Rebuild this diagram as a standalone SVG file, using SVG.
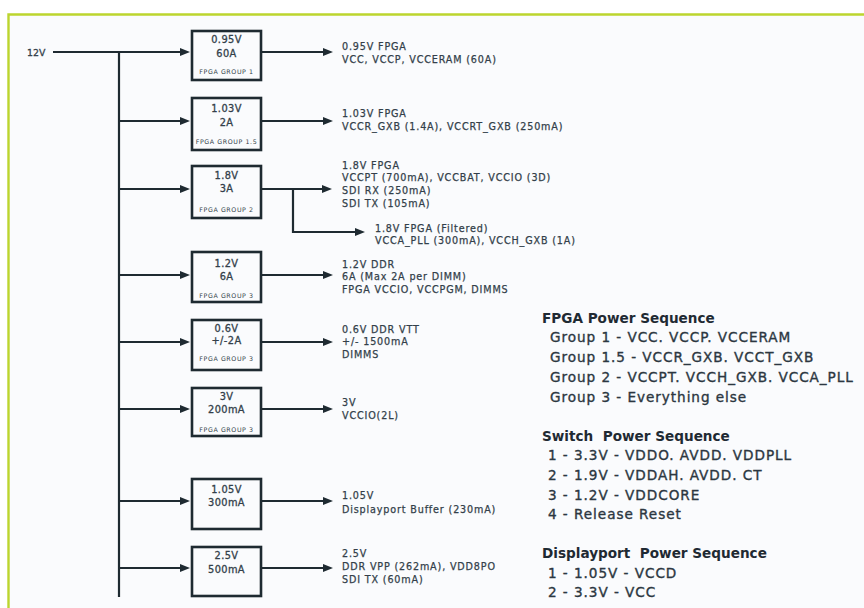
<svg xmlns="http://www.w3.org/2000/svg" width="864" height="608" viewBox="0 0 864 608">
<style>
text{font-family:"DejaVu Sans","Liberation Sans",sans-serif;fill:#333f4a}
.lbl{font-size:9.6px;letter-spacing:0.85px;stroke:#333f4a;stroke-width:0.25px}
.val{font-size:9.8px;letter-spacing:0.4px;text-anchor:middle;stroke:#333f4a;stroke-width:0.3px}
.grp{font-size:6.3px;letter-spacing:0.6px;text-anchor:middle}
.seq{font-size:13.6px;letter-spacing:0.95px;fill:#2c3741;stroke:#2c3741;stroke-width:0.35px}
.ttl{font-size:13.6px;font-weight:bold;letter-spacing:0px;fill:#1f2a33;white-space:pre}
.box{fill:none;stroke:#1e2a31;stroke-width:2.6}
.ln{fill:none;stroke:#1e2a31;stroke-width:2.2}
</style>
<defs>
<marker id="ah" markerUnits="userSpaceOnUse" markerWidth="10" markerHeight="8" refX="4" refY="4" orient="auto">
<path d="M0,0 L10,4 L0,8 z" fill="#1e2a31"/>
</marker>
</defs>
<rect x="0" y="0" width="864" height="608" fill="#ffffff"/>
<rect x="9" y="15" width="855" height="593" fill="#fafbfd"/>
<path d="M8.5,608 V14.5 H864" fill="none" stroke="#bcd52e" stroke-width="2.4"/>
<text x="27" y="56" style="font-size:9.4px;stroke:#333f4a;stroke-width:0.3px">12V</text>
<g id="connectors">
<line class="ln" x1="53" y1="52" x2="184" y2="52" marker-end="url(#ah)"/>
<line class="ln" x1="119" y1="51" x2="119" y2="597"/>
<line class="ln" x1="119" y1="121" x2="184" y2="121" marker-end="url(#ah)"/>
<line class="ln" x1="119" y1="189" x2="184" y2="189" marker-end="url(#ah)"/>
<line class="ln" x1="119" y1="275" x2="184" y2="275" marker-end="url(#ah)"/>
<line class="ln" x1="119" y1="342" x2="184" y2="342" marker-end="url(#ah)"/>
<line class="ln" x1="119" y1="409" x2="184" y2="409" marker-end="url(#ah)"/>
<line class="ln" x1="119" y1="501" x2="184" y2="501" marker-end="url(#ah)"/>
<line class="ln" x1="119" y1="568" x2="184" y2="568" marker-end="url(#ah)"/>
<line class="ln" x1="262" y1="52" x2="327" y2="52" marker-end="url(#ah)"/>
<line class="ln" x1="262" y1="121" x2="327" y2="121" marker-end="url(#ah)"/>
<line class="ln" x1="262" y1="189" x2="326" y2="189" marker-end="url(#ah)"/>
<polyline class="ln" points="293,189 293,232 359,232" marker-end="url(#ah)"/>
<line class="ln" x1="262" y1="275" x2="327" y2="275" marker-end="url(#ah)"/>
<line class="ln" x1="262" y1="342" x2="327" y2="342" marker-end="url(#ah)"/>
<line class="ln" x1="262" y1="409" x2="327" y2="409" marker-end="url(#ah)"/>
<line class="ln" x1="262" y1="501" x2="327" y2="501" marker-end="url(#ah)"/>
<line class="ln" x1="262" y1="568" x2="327" y2="568" marker-end="url(#ah)"/>
</g>
<g id="n1"><rect class="box" x="192" y="31" width="69" height="49"/><text class="val" x="226.5" y="43">0.95V</text><text class="val" x="226.5" y="57">60A</text><text class="grp" x="226.5" y="74">FPGA GROUP 1</text></g>
<g id="n2"><rect class="box" x="192" y="98" width="69" height="52"/><text class="val" x="226.5" y="112">1.03V</text><text class="val" x="226.5" y="126">2A</text><text class="grp" x="226.5" y="144">FPGA GROUP 1.5</text></g>
<g id="n3"><rect class="box" x="192" y="166" width="69" height="52"/><text class="val" x="226.5" y="179">1.8V</text><text class="val" x="226.5" y="192">3A</text><text class="grp" x="226.5" y="212">FPGA GROUP 2</text></g>
<g id="n4"><rect class="box" x="192" y="252" width="69" height="50"/><text class="val" x="226.5" y="267">1.2V</text><text class="val" x="226.5" y="280">6A</text><text class="grp" x="226.5" y="298">FPGA GROUP 3</text></g>
<g id="n5"><rect class="box" x="192" y="320" width="69" height="50"/><text class="val" x="226.5" y="332">0.6V</text><text class="val" x="226.5" y="344">+/-2A</text><text class="grp" x="226.5" y="361">FPGA GROUP 3</text></g>
<g id="n6"><rect class="box" x="192" y="388" width="69" height="48"/><text class="val" x="226.5" y="400">3V</text><text class="val" x="226.5" y="413">200mA</text><text class="grp" x="226.5" y="432">FPGA GROUP 3</text></g>
<g id="n7"><rect class="box" x="192" y="479" width="69" height="50"/><text class="val" x="226.5" y="493">1.05V</text><text class="val" x="226.5" y="506">300mA</text></g>
<g id="n8"><rect class="box" x="192" y="547" width="69" height="49"/><text class="val" x="226.5" y="559">2.5V</text><text class="val" x="226.5" y="573">500mA</text></g>
<g id="o1"><text class="lbl" x="342" y="50">0.95V FPGA</text><text class="lbl" x="342" y="63">VCC, VCCP, VCCERAM (60A)</text></g>
<g id="o2"><text class="lbl" x="342" y="117">1.03V FPGA</text><text class="lbl" x="342" y="130">VCCR_GXB (1.4A), VCCRT_GXB (250mA)</text></g>
<g id="o3"><text class="lbl" x="342" y="169">1.8V FPGA</text><text class="lbl" x="342" y="181">VCCPT (700mA), VCCBAT, VCCIO (3D)</text><text class="lbl" x="342" y="194">SDI RX (250mA)</text><text class="lbl" x="342" y="207">SDI TX (105mA)</text></g>
<g id="o3f"><text class="lbl" x="375" y="232">1.8V FPGA (Filtered)</text><text class="lbl" x="375" y="244">VCCA_PLL (300mA), VCCH_GXB (1A)</text></g>
<g id="o4"><text class="lbl" x="342" y="268">1.2V DDR</text><text class="lbl" x="342" y="280">6A (Max 2A per DIMM)</text><text class="lbl" x="342" y="293">FPGA VCCIO, VCCPGM, DIMMS</text></g>
<g id="o5"><text class="lbl" x="342" y="333">0.6V DDR VTT</text><text class="lbl" x="342" y="345">+/- 1500mA</text><text class="lbl" x="342" y="358">DIMMS</text></g>
<g id="o6"><text class="lbl" x="342" y="406">3V</text><text class="lbl" x="342" y="419">VCCIO(2L)</text></g>
<g id="o7"><text class="lbl" x="342" y="499">1.05V</text><text class="lbl" x="342" y="513">Displayport Buffer (230mA)</text></g>
<g id="o8"><text class="lbl" x="342" y="557">2.5V</text><text class="lbl" x="342" y="570">DDR VPP (262mA), VDD8PO</text><text class="lbl" x="342" y="583">SDI TX (60mA)</text></g>
<g id="seq1"><text class="ttl" x="542" y="323">FPGA Power Sequence</text><text class="seq" x="550" y="342">Group 1 - VCC. VCCP. VCCERAM</text><text class="seq" x="550" y="362">Group 1.5 - VCCR_GXB. VCCT_GXB</text><text class="seq" x="550" y="382">Group 2 - VCCPT. VCCH_GXB. VCCA_PLL</text><text class="seq" x="550" y="402">Group 3 - Everything else</text></g>
<g id="seq2"><text class="ttl" x="542" y="441">Switch  Power Sequence</text><text class="seq" x="548" y="460">1 - 3.3V - VDDO. AVDD. VDDPLL</text><text class="seq" x="548" y="480">2 - 1.9V - VDDAH. AVDD. CT</text><text class="seq" x="548" y="500">3 - 1.2V - VDDCORE</text><text class="seq" x="548" y="519">4 - Release Reset</text></g>
<g id="seq3"><text class="ttl" x="542" y="558">Displayport  Power Sequence</text><text class="seq" x="548" y="578">1 - 1.05V - VCCD</text><text class="seq" x="548" y="597">2 - 3.3V - VCC</text></g>
</svg>
